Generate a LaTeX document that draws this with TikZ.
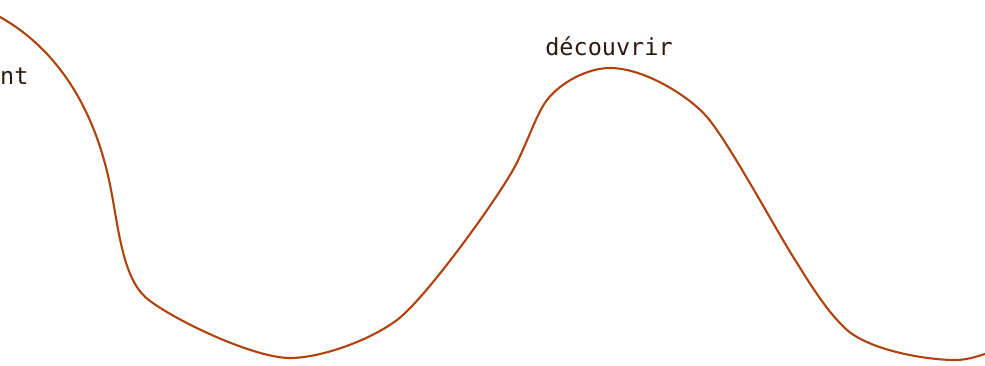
\documentclass[tikz,border=0pt]{standalone}
\usepackage{fontspec}
\setmonofont{DejaVu Sans Mono}
\definecolor{wave}{HTML}{B0420E}
\definecolor{ink}{HTML}{2E1A0E}
\begin{document}
\begin{tikzpicture}[x=1pt,y=-1pt,
  lbl/.style={font=\ttfamily\fontsize{23.5}{26}\selectfont, text=ink, inner sep=0pt},
  wavestyle/.style={draw=wave, line width=2.1pt, line cap=round, line join=round}]
\useasboundingbox (0,0) rectangle (985,366);
\node[lbl, anchor=base west] (lnt) at (0,85) {nt};
\node[lbl, anchor=base] (ldec) at (609,56) {découvrir};
\draw[wavestyle]
 (-10,10) .. controls (-4,13) and (-2,15) .. (0,17)
 .. controls (50,45) and (95,100) .. (112,195)
 .. controls (120,240) and (125,283) .. (150,301)
 .. controls (180,323) and (255,358) .. (290,358)
 .. controls (320,358) and (369,341) .. (397,320)
 .. controls (425,299) and (493,205) .. (513,170)
 .. controls (525.5,148) and (536,114) .. (547,100)
 .. controls (561,82) and (588,68) .. (610,68)
 .. controls (643,68) and (688,95) .. (707,117)
 .. controls (730,144) and (778,234) .. (797,263)
 .. controls (810,284) and (828,313) .. (847,330)
 .. controls (870,350) and (925,360) .. (955,360)
 .. controls (970,360) and (980,355) .. (992,352);
\end{tikzpicture}
\end{document}
